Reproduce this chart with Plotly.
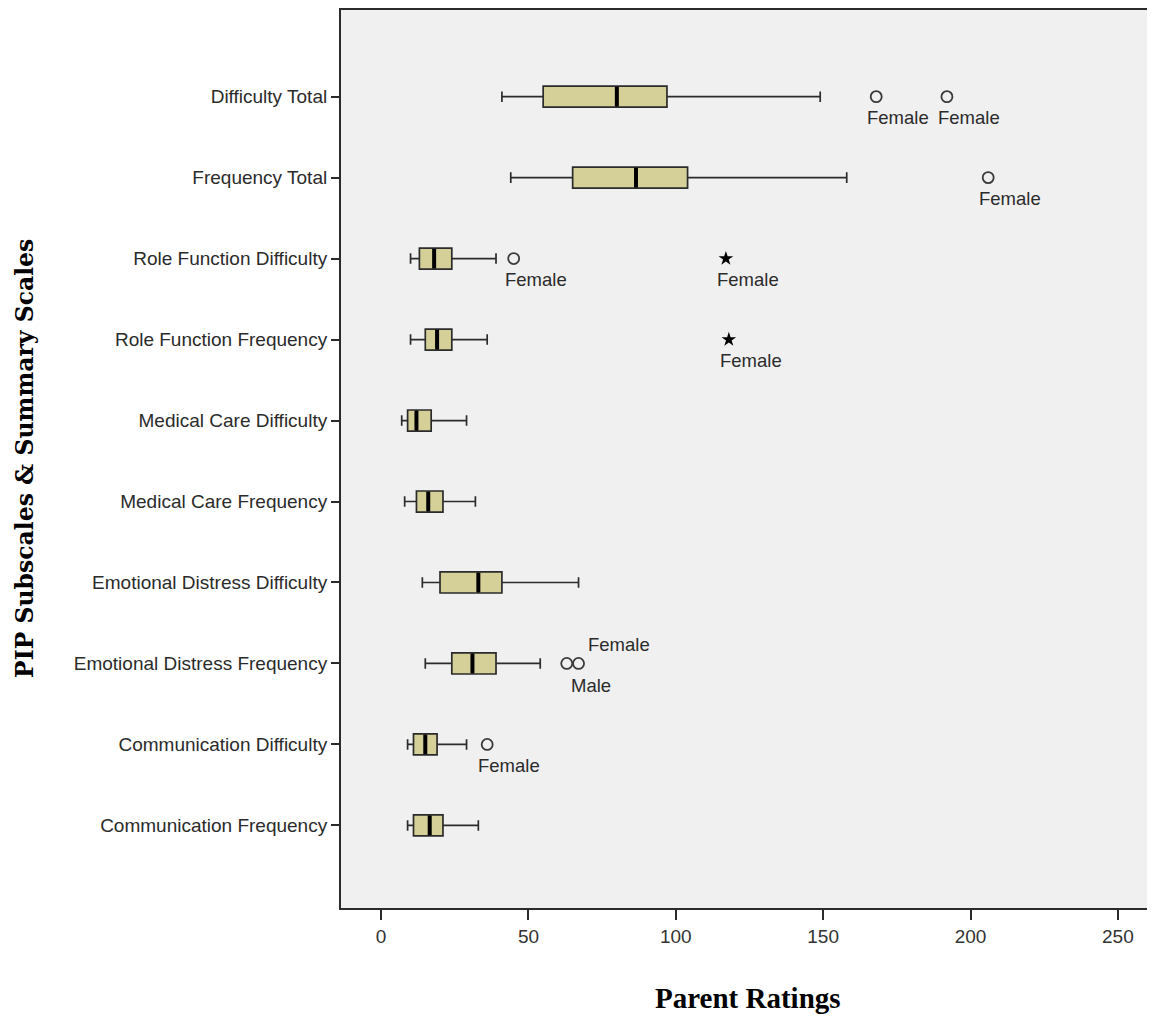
import plotly.graph_objects as go

categories = ["Difficulty Total", "Frequency Total", "Role Function Difficulty",
              "Role Function Frequency", "Medical Care Difficulty", "Medical Care Frequency",
              "Emotional Distress Difficulty", "Emotional Distress Frequency",
              "Communication Difficulty", "Communication Frequency"]
lower = [41, 44, 10, 10, 7, 8, 14, 15, 9, 9]
q1 = [55, 65, 13, 15, 9, 12, 20, 24, 11, 11]
median = [80, 86.5, 18, 19, 12, 16, 33, 31, 15, 16.5]
q3 = [97, 104, 24, 24, 17, 21, 41, 39, 19, 21]
upper = [149, 158, 39, 36, 29, 32, 67, 54, 29, 33]

# outliers (circles)
out_x = [168, 192, 206, 45, 63, 67, 36]
out_cat = ["Difficulty Total", "Difficulty Total", "Frequency Total", "Role Function Difficulty",
           "Emotional Distress Frequency", "Emotional Distress Frequency", "Communication Difficulty"]
out_lab = ["Female", "Female", "Female", "Female", "Male", "Female", "Female"]
# extremes (stars)
ext_x = [117, 118]
ext_cat = ["Role Function Difficulty", "Role Function Frequency"]
ext_lab = ["Female", "Female"]

tick_vals = [0, 50, 100, 150, 200, 250]

W, H = 1147, 1008
ML, MR, MT, MB = 333, 0, 0, 108

fig = go.Figure()
fig.add_trace(go.Box(
    y=categories, q1=q1, median=median, q3=q3, lowerfence=lower, upperfence=upper,
    orientation="h", fillcolor="#d5cf98", line=dict(color="#2b2b2b", width=1.7),
    width=0.26, whiskerwidth=0.5, boxpoints=False, showlegend=False, hoverinfo="skip"))
fig.add_trace(go.Scatter(
    x=median, y=categories, mode="markers",
    marker=dict(symbol="line-ns", size=14, line=dict(color="black", width=4)),
    showlegend=False, hoverinfo="skip"))
fig.add_trace(go.Scatter(
    x=out_x, y=out_cat, mode="markers",
    marker=dict(symbol="circle-open", size=11, color="#3a3a3a", line=dict(width=1.8)),
    showlegend=False, hoverinfo="skip"))
fig.add_trace(go.Scatter(
    x=ext_x, y=ext_cat, mode="markers",
    marker=dict(symbol="star", size=11, color="black"),
    showlegend=False, hoverinfo="skip"))

lab_font = dict(family="Liberation Sans, Arial, sans-serif", size=18.5, color="#2b2b2b")
for xv, cv, lb in list(zip(out_x, out_cat, out_lab)) + list(zip(ext_x, ext_cat, ext_lab)):
    xs, ys = -11, -21
    if cv == "Emotional Distress Frequency":
        if lb == "Female":
            xs, ys = 7, 19
        else:
            xs, ys = 2, -22
    fig.add_annotation(x=xv, y=cv, text=lb, showarrow=False, xanchor="left", yanchor="middle",
                       xshift=xs, yshift=ys, font=lab_font)

plot_w = W - ML - MR
plot_h = H - MT - MB
fig.add_annotation(x=0.5, y=-(990 - (H - MB)) / plot_h, xref="paper", yref="paper",
                   text="<b>Parent Ratings</b>",
                   showarrow=False, xanchor="center", yanchor="middle",
                   font=dict(family="Liberation Serif, Times New Roman, serif", size=29, color="black"))
fig.add_annotation(x=(17 - ML) / plot_w, y=0.5, xref="paper", yref="paper",
                   text="<b>PIP Subscales &amp; Summary Scales</b>",
                   showarrow=False, textangle=-90, xanchor="center", yanchor="middle",
                   font=dict(family="DejaVu Serif, Liberation Serif, serif", size=23.5, color="black"))

fig.update_layout(
    width=W, height=H,
    margin=dict(l=ML, r=MR, t=MT, b=MB),
    paper_bgcolor="white", plot_bgcolor="#f0f0f0",
    font=dict(family="Liberation Sans, Arial, sans-serif", size=19, color="#2b2b2b"),
    xaxis=dict(range=[-13.6, 262.6], tickvals=tick_vals, showgrid=False, zeroline=False,
               showline=True, linecolor="#2b2b2b", linewidth=2, mirror=True,
               ticks="outside", ticklen=10, tickwidth=2, tickcolor="#2b2b2b",
               tickfont=dict(size=19, color="#333")),
    yaxis=dict(type="category", categoryorder="array", categoryarray=categories,
               range=[10.02, -1.07], showgrid=False, zeroline=False,
               showline=True, linecolor="#2b2b2b", linewidth=2,
               ticks="outside", ticklen=8, tickwidth=2, tickcolor="#2b2b2b",
               tickfont=dict(size=19, color="#2b2b2b")),
)
fig.write_html("out.html")
